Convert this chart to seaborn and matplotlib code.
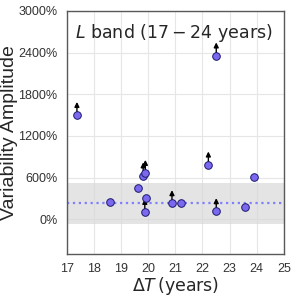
import numpy as np
import pandas as pd
import seaborn as sns
import matplotlib.pyplot as plt

# L band variability amplitudes
delta_t = [17.38, 22.51, 18.58, 19.63, 19.82, 19.90, 19.94, 19.88, 20.88, 21.23, 22.22, 23.89, 22.51, 23.57]
amplitude = [1500, 2357, 253, 443, 630, 665, 304, 104, 229, 238, 786, 605, 114, 171]
lower_limit = [True, True, False, False, True, True, False, True, True, False, True, False, True, False]

median_amp = 229
band_halfwidth = 300

df = pd.DataFrame({'dt': delta_t, 'amp': amplitude, 'lim': lower_limit})

sns.set_style('whitegrid')
plt.rcParams['font.family'] = ['Liberation Sans', 'DejaVu Sans']
plt.rcParams['mathtext.fontset'] = 'dejavusans'

fig, ax = plt.subplots(figsize=(2.96, 2.96), dpi=100)
fig.subplots_adjust(left=0.225, right=0.959, top=0.963, bottom=0.142)

ax.axhspan(median_amp - band_halfwidth, median_amp + band_halfwidth, color='0.85', alpha=0.7, lw=0, zorder=1)
ax.axhline(median_amp, color='#8080ff', ls=':', lw=1.6, zorder=2)

# arrows for lower limits
for x, y in zip(df[df.lim].dt, df[df.lim].amp):
    ax.annotate('', xy=(x, y + 190), xytext=(x, y),
                arrowprops=dict(arrowstyle='-|>', color='black', lw=1.0,
                                mutation_scale=7, shrinkA=0, shrinkB=0),
                zorder=3)

sns.scatterplot(data=df, x='dt', y='amp', color='#7b68ee', edgecolor='#1a1a6e',
                linewidth=0.7, s=30, zorder=4, ax=ax)

ax.set_xlim(17, 25)
ax.set_ylim(-500, 3000)
ax.set_xticks(range(17, 26))
ax.set_yticks([0, 600, 1200, 1800, 2400, 3000])
ax.set_yticklabels([f'{v}%' for v in [0, 600, 1200, 1800, 2400, 3000]])
ax.tick_params(labelsize=9, pad=3, labelcolor='0.2')
ax.grid(color='0.9', lw=0.8)
for s in ax.spines.values():
    s.set_color('0.35')
    s.set_linewidth(1.0)

ax.set_xlabel(r'$\Delta T\,\mathrm{(years)}$', fontsize=12.5)
ax.set_ylabel('Variability Amplitude', fontsize=14)
ax.xaxis.set_label_coords(0.5, -0.088)
ax.yaxis.set_label_coords(-0.222, 0.5)
ax.text(0.04, 0.955, r'$L\ \mathrm{band}\ (17-24\ \mathrm{years})$', transform=ax.transAxes,
        fontsize=12.5, va='top', ha='left')

fig.savefig('out.png', dpi=100)
